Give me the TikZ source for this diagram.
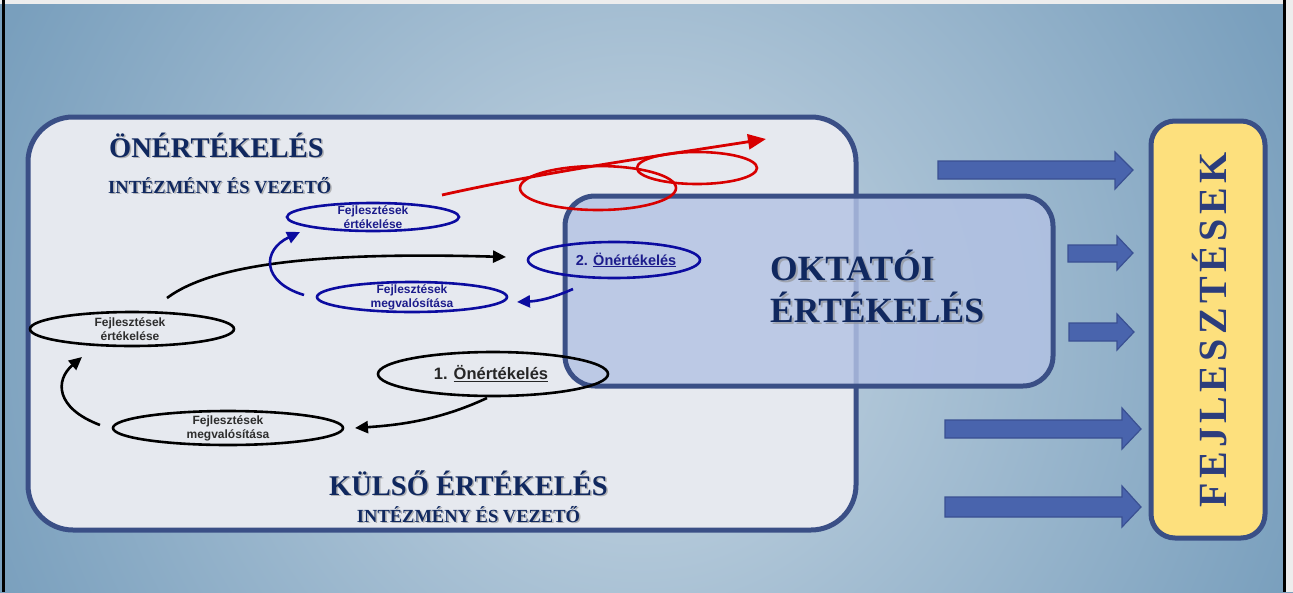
\documentclass[tikz,border=0pt]{standalone}
\usepackage{fontspec}
\setmainfont{Liberation Serif}
\newfontfamily\arialf{Liberation Sans}
\usetikzlibrary{shapes.geometric,arrows.meta}
\definecolor{bgin}{HTML}{C9D8E4}
\definecolor{bgout}{HTML}{799FBD}
\definecolor{boxline}{HTML}{3A4F86}
\definecolor{boxfill}{HTML}{E6E9EF}
\definecolor{oktfill}{HTML}{B3C2E4}
\definecolor{navy}{HTML}{10285F}
\definecolor{ellblue}{HTML}{0C0CA0}
\definecolor{txtblue}{HTML}{1C1C8C}
\definecolor{redline}{HTML}{D80000}
\definecolor{arrfill}{HTML}{4964AD}
\definecolor{arrline}{HTML}{3A5092}
\definecolor{yel}{HTML}{FDE07D}
\definecolor{fejtxt}{HTML}{2C3D7C}
\pgfdeclareradialshading{bgsh}{\pgfpoint{0bp}{0bp}}{color(0bp)=(bgin); color(25bp)=(bgout); color(50bp)=(bgout)}
\tikzset{
  panel/.style={draw=boxline, line width=5pt, rounded corners=45pt, inner sep=0pt, outer sep=0pt},
  title/.style={text=navy, font=\bfseries, inner sep=0pt},
  shadowtxt/.style={text=black!45, opacity=0.6, font=\bfseries, inner sep=0pt},
  blackell/.style={draw=black, line width=2.6pt, ellipse, inner sep=0pt, outer sep=0pt},
  blueell/.style={draw=ellblue, line width=2.6pt, ellipse, inner sep=0pt, outer sep=0pt},
  redell/.style={draw=redline, line width=2.6pt, ellipse, inner sep=0pt, outer sep=0pt},
  smalltxt/.style={font=\arialf\bfseries\fontsize{12}{14}\selectfont, align=center, inner sep=0pt},
  blackarr/.style={draw=black, line width=2.6pt, -{Triangle[length=13pt,width=12pt]}},
  bluearr/.style={draw=ellblue, line width=2.6pt, -{Triangle[length=13pt,width=12pt]}},
  redarr/.style={draw=redline, line width=2.8pt, -{Triangle[length=18pt,width=15pt]}},
  blockarr/.style={fill=arrfill, draw=arrline, line width=1.2pt, line join=miter},
}
\begin{document}
\begin{tikzpicture}[x=1pt,y=-1pt]
\useasboundingbox (0,0) rectangle (1293,592);
% background
\begin{scope}
\clip (0,0) rectangle (1293,592);
\shade[shading=bgsh] (-60,-370) rectangle (1340,1030);
\end{scope}
\fill[black!7] (0,0) rectangle (1293,4);
\fill[black!7] (1286,0) rectangle (1293,592);
\fill[black] (2,0) rectangle (4.5,592);
\fill[black] (1283,0) rectangle (1285.5,592);

% main panel
\node[panel, fill=boxfill, minimum width=828pt, minimum height=413pt] (kulso) at (442,323.5) {};

% titles
\node[shadowtxt, anchor=base west, font=\bfseries\fontsize{28.5}{29}\selectfont] (t1s) at (110.5,158.5) {ÖNÉRTÉKELÉS};
\node[title, anchor=base west, font=\bfseries\fontsize{28.5}{29}\selectfont] (t1) at (109,157) {ÖNÉRTÉKELÉS};
\node[shadowtxt, anchor=base west, font=\bfseries\fontsize{18.5}{19}\selectfont] (t2s) at (109.5,194.5) {INTÉZMÉNY ÉS VEZETŐ};
\node[title, anchor=base west, font=\bfseries\fontsize{18.5}{19}\selectfont] (t2) at (108,193) {INTÉZMÉNY ÉS VEZETŐ};
\node[shadowtxt, anchor=base, font=\bfseries\fontsize{28.5}{29}\selectfont] (t3s) at (470,496.5) {KÜLSŐ ÉRTÉKELÉS};
\node[title, anchor=base, font=\bfseries\fontsize{28.5}{29}\selectfont] (t3) at (468.5,495) {KÜLSŐ ÉRTÉKELÉS};
\node[shadowtxt, anchor=base, font=\bfseries\fontsize{18.5}{19}\selectfont] (t4s) at (470,523.5) {INTÉZMÉNY ÉS VEZETŐ};
\node[title, anchor=base, font=\bfseries\fontsize{18.5}{19}\selectfont] (t4) at (468.5,522) {INTÉZMÉNY ÉS VEZETŐ};

% oktatoi panel
\node[panel, rounded corners=30pt, fill=oktfill, fill opacity=0.82, minimum width=488pt, minimum height=190pt] (okt) at (809,291) {};
\node[shadowtxt, anchor=base west, font=\bfseries\fontsize{35.5}{36}\selectfont] (o1s) at (772,282) {OKTATÓI};
\node[title, anchor=base west, font=\bfseries\fontsize{35.5}{36}\selectfont] (o1) at (770,280) {OKTATÓI};
\node[shadowtxt, anchor=base west, font=\bfseries\fontsize{35.5}{36}\selectfont] (o2s) at (772,324) {ÉRTÉKELÉS};
\node[title, anchor=base west, font=\bfseries\fontsize{35.5}{36}\selectfont] (o2) at (770,322) {ÉRTÉKELÉS};

% red loop
\node[redell, minimum width=156pt, minimum height=44pt] (r1) at (598,188) {};
\node[redell, minimum width=120pt, minimum height=32pt] (r2) at (697,168) {};
\coordinate (rs) at (442,195);
\coordinate (re) at (766,139);
\draw[redarr] (rs) .. controls (540,173) and (650,157) .. (re);

% black ellipses
\node[blackell, minimum width=230pt, minimum height=44pt] (e1) at (493,374) {};
\node[font=\arialf\bfseries\fontsize{16.5}{17}\selectfont, text=black!85, inner sep=0pt] (e1t) at (491,374) {1. \underline{Önértékelés}};
\node[blackell, minimum width=230pt, minimum height=34pt] (fm) at (228,428) {};
\node[smalltxt, text=black!82] (fmt) at (228,428) {Fejlesztések\\megvalósítása};
\node[blackell, minimum width=204pt, minimum height=34pt] (fe) at (132,329) {};
\node[smalltxt, text=black!82] (fet) at (130,329) {Fejlesztések\\értékelése};

% blue ellipses
\node[blueell, minimum width=172pt, minimum height=36pt] (on2) at (614,260) {};
\node[font=\arialf\bfseries\fontsize{14.5}{15}\selectfont, text=txtblue, inner sep=0pt] (on2t) at (626,260) {2. \underline{Önértékelés}};
\node[blueell, minimum width=190pt, minimum height=30pt] (bm) at (412,297) {};
\node[smalltxt, text=txtblue] (bmt) at (412,297) {Fejlesztések\\megvalósítása};
\node[blueell, minimum width=172pt, minimum height=28pt] (bf) at (373,217) {};
\node[smalltxt, text=txtblue] (bft) at (373,217) {Fejlesztések\\értékelése};

% connectors
\draw[blackarr] ([shift={(-6,2)}]e1.south) .. controls +(-47,22) and +(45,-3) .. ([shift={(12,0)}]fm.east);
\draw[blackarr] ([shift={(-13,-3)}]fm.west) .. controls +(-45,-17) and +(-27,23) .. ([shift={(-50,11)}]fe.south);
\draw[blackarr] ([shift={(35,-14)}]fe.north) .. controls +(48,-36) and +(-177,-5) .. ([shift={(-22,-3)}]on2.west);
\draw[bluearr] ([shift={(-41,11)}]on2.south) .. controls +(-18,8) and +(23,-1) .. ([shift={(10,5)}]bm.east);
\draw[bluearr] ([shift={(-13,-2)}]bm.west) .. controls +(-43,-13) and +(-38,18) .. ([shift={(13,15)}]bf.west);

% fejlesztesek box
\node[panel, rounded corners=24pt, fill=yel, minimum width=114pt, minimum height=417pt] (fej) at (1208,329.5) {};
\node[rotate=90, text=fejtxt, inner sep=0pt, font=\bfseries\fontsize{40}{40}\selectfont] (fejt) at (1210,330) {\addfontfeatures{LetterSpace=11}FEJLESZTÉSEK};

% block arrows
\draw[blockarr] (938,161) -- (1115,161) -- (1115,152) -- (1133,170) -- (1115,189) -- (1115,179) -- (938,179) -- cycle;
\draw[blockarr] (1068,245) -- (1117,245) -- (1117,236) -- (1133,253) -- (1117,270) -- (1117,262) -- (1068,262) -- cycle;
\draw[blockarr] (1069,323) -- (1117,323) -- (1117,314) -- (1134,332) -- (1117,350) -- (1117,341) -- (1069,341) -- cycle;
\draw[blockarr] (945,420) -- (1122,420) -- (1122,408) -- (1141,429) -- (1122,449) -- (1122,438) -- (945,438) -- cycle;
\draw[blockarr] (945,497) -- (1122,497) -- (1122,486) -- (1141,507) -- (1122,527) -- (1122,517) -- (945,517) -- cycle;
\end{tikzpicture}
\end{document}
